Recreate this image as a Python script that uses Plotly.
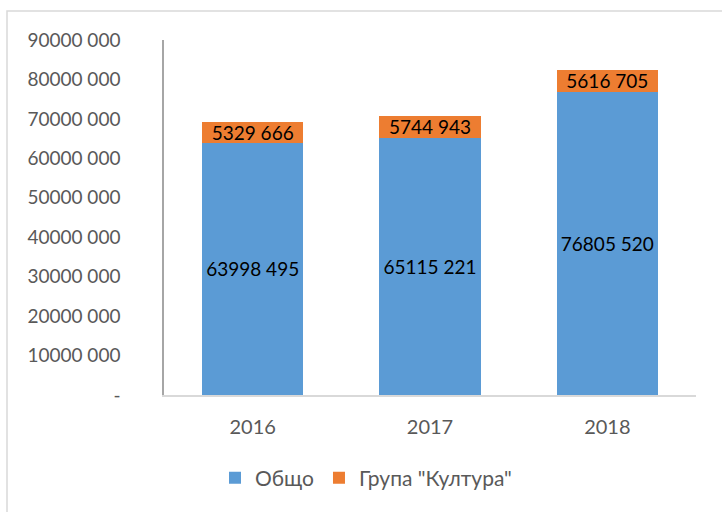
import plotly.graph_objects as go

years = ["2016", "2017", "2018"]
obshto = [63998495, 65115221, 76805520]
kultura = [5329666, 5744943, 5616705]
tick_values = [0, 10000000, 20000000, 30000000, 40000000, 50000000,
               60000000, 70000000, 80000000, 90000000]
tick_labels = ["-", "10000 000", "20000 000", "30000 000", "40000 000",
               "50000 000", "60000 000", "70000 000", "80000 000", "90000 000"]

FONT = "Lato, 'Noto Sans', sans-serif"


def fmt(v):
    return f"{v // 1000} {v % 1000:03d}"


fig = go.Figure()
fig.add_trace(go.Bar(
    name="Общо", x=years, y=obshto,
    marker=dict(color="#5B9BD5", line=dict(width=0)),
    text=[fmt(v) for v in obshto], textposition="inside",
    insidetextanchor="middle",
    textfont=dict(family=FONT, size=19, color="#000000"),
))
fig.add_trace(go.Bar(
    name='Група "Култура"', x=years, y=kultura,
    marker=dict(color="#ED7D31", line=dict(width=0)),
    text=[fmt(v) for v in kultura], textposition="inside",
    insidetextanchor="middle",
    textfont=dict(family=FONT, size=19, color="#000000"),
))

W, H = 722, 512
L, R, T, B = 164, 26, 40, 117
pw, ph = W - L - R, H - T - B

fig.update_layout(
    width=W, height=H,
    margin=dict(l=L, r=R, t=T, b=B),
    barmode="stack", bargap=0.43,
    paper_bgcolor="white", plot_bgcolor="white",
    font=dict(family=FONT, size=19, color="#595959"),
    uniformtext=dict(minsize=19, mode="show"),
    showlegend=True,
    legend=dict(
        orientation="h", x=(366 - L) / pw, xanchor="center",
        y=(H - B - 478) / ph, yanchor="middle",
        font=dict(family=FONT, size=21, color="#595959"),
        itemwidth=30, traceorder="normal",
    ),
    xaxis=dict(
        showline=True, linecolor="#D9D9D9", linewidth=1.5,
        ticks="", showgrid=False, ticklabelstandoff=13,
        tickfont=dict(family=FONT, size=20, color="#595959"),
    ),
    yaxis=dict(
        range=[0, 90000000], tickvals=tick_values, ticktext=tick_labels,
        showline=True, linecolor="#A6A6A6", linewidth=1.5,
        ticks="", showgrid=False, zeroline=False, ticklabelstandoff=38,
        tickfont=dict(family=FONT, size=19, color="#595959"),
    ),
    shapes=[dict(
        type="rect", xref="paper", yref="paper",
        x0=(7 - L) / pw, x1=(W + 20 - L) / pw,
        y0=(H - B - (H + 20)) / ph, y1=(H - B - 11) / ph,
        line=dict(color="#D9D9D9", width=1.5), fillcolor="rgba(0,0,0,0)",
        layer="below",
    )],
)

fig.write_html("out.html")
